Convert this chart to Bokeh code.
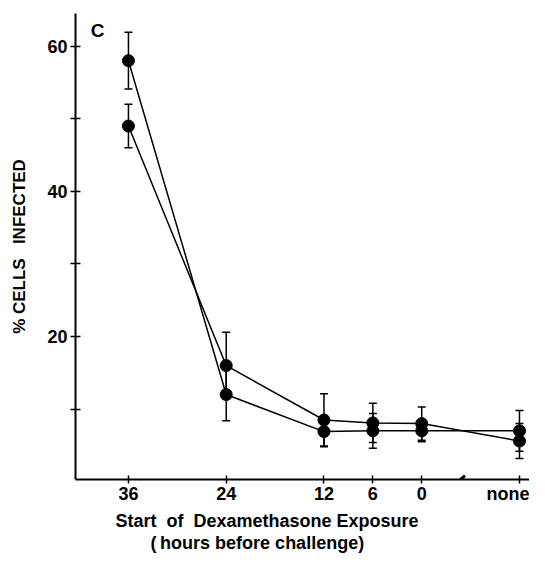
from bokeh.plotting import figure
from bokeh.models import (ColumnDataSource, Range1d, FixedTicker, Whisker, TeeHead, Label, Title)
from bokeh.embed import file_html
from bokeh.resources import INLINE

# ---- data ----
x_labels = ["36", "24", "12", "6", "0", "none"]
x_pos = [36, 24, 12, 6, 0, -12]          # "none" sits one 12-h step past 0
series_a = [58.0, 12.0, 6.9, 7.0, 7.0, 7.0]
err_a = [3.9, 3.6, 2.1, 2.4, 1.5, 2.8]
series_b = [49.0, 16.0, 8.5, 8.1, 8.0, 5.6]
err_b = [3.0, 4.6, 3.6, 2.7, 2.3, 2.4]
y_major = [20, 40, 60]
y_minor = [10, 30, 50]
axis_break = [-4.75]

FONT = "Liberation Sans"
NB = "\u00a0"

p = figure(width=529, height=556, output_backend="svg", toolbar_location=None,
           x_range=Range1d(42.5, -13.23), y_range=Range1d(0.3, 64.5),
           min_border_left=75, min_border_right=0, min_border_top=13,
           min_border_bottom=77)
p.outline_line_color = None
p.grid.visible = False
p.background_fill_color = "white"

for ax in (p.xaxis[0], p.yaxis[0]):
    ax.axis_line_width = 2
    ax.axis_line_color = "black"
    ax.major_tick_line_width = 1.5
    ax.minor_tick_line_width = 1.5
    ax.major_tick_line_color = "black"
    ax.minor_tick_line_color = "black"
    ax.major_label_text_font = FONT
    ax.major_label_text_font_style = "bold"
    ax.major_label_text_font_size = "18px"
    ax.major_label_text_color = "black"
    ax.major_label_standoff = 3

p.xaxis.ticker = FixedTicker(ticks=x_pos)
p.xaxis.major_label_overrides = {k: v for k, v in zip(x_pos, x_labels)}
p.xaxis.major_tick_in = 4
p.xaxis.major_tick_out = 4
p.xaxis.minor_tick_in = 0
p.xaxis.minor_tick_out = 0
p.xaxis.major_label_standoff = 0

p.yaxis.ticker = FixedTicker(ticks=y_major, minor_ticks=y_minor)
p.yaxis.major_tick_in = 5
p.yaxis.major_tick_out = 5
p.yaxis.minor_tick_in = 5
p.yaxis.minor_tick_out = 5
p.yaxis.axis_label = "%" + NB + "CELLS" + NB + NB + NB + "INFECTED"
p.yaxis.axis_label_text_font = FONT
p.yaxis.axis_label_text_font_style = "bold"
p.yaxis.axis_label_text_font_size = "17px"
p.yaxis.axis_label_text_color = "black"
p.yaxis.axis_label_standoff = 15

src_a = ColumnDataSource(dict(x=x_pos, y=series_a,
                              lo=[v - e for v, e in zip(series_a, err_a)],
                              hi=[v + e for v, e in zip(series_a, err_a)]))
src_b = ColumnDataSource(dict(x=x_pos, y=series_b,
                              lo=[v - e for v, e in zip(series_b, err_b)],
                              hi=[v + e for v, e in zip(series_b, err_b)]))

for src in (src_a, src_b):
    w = Whisker(source=src, base="x", upper="hi", lower="lo", dimension="height",
                line_color="black", line_width=1.5,
                upper_head=TeeHead(size=8, line_width=1.5, line_color="black"),
                lower_head=TeeHead(size=8, line_width=1.5, line_color="black"))
    p.add_layout(w)
    p.line("x", "y", source=src, line_color="black", line_width=1.5)
    p.scatter("x", "y", source=src, size=12, fill_color="black", line_color="black")

# axis break mark
p.scatter(x=axis_break, y=[0.3], marker="dash", size=12, angle=0.7,
          line_color="black", line_width=3)

# panel letter
p.add_layout(Label(x=39.8, y=62.1, text="C", text_font=FONT, text_font_style="bold",
                   text_color="black", text_font_size="19px",
                   text_align="center", text_baseline="middle"))

# x title (two lines) as one title below the axis
line1 = "Start" + NB + " of" + NB + " Dexamethasone Exposure"
line2 = NB * 7 + "(\u2009hours before challenge)"
t1 = Title(text=line1 + "\n" + line2, align="left", offset=40,
           text_font=FONT, text_font_style="bold", text_font_size="18px",
           text_color="black", text_line_height=1.1, standoff=5)
p.add_layout(t1, "below")

open("out.html", "w").write(file_html(p, INLINE))
